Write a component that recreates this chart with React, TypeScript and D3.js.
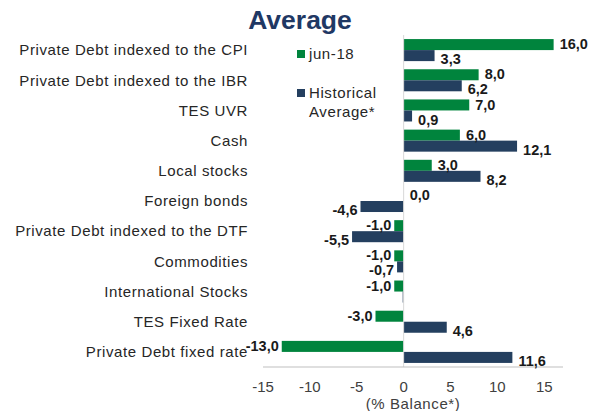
import React from 'react';
import * as d3 from 'd3';

const width = 595;
const height = 411;

// categories, top to bottom
const categories = [
  'Private Debt indexed to the CPI',
  'Private Debt indexed to the IBR',
  'TES UVR',
  'Cash',
  'Local stocks',
  'Foreign bonds',
  'Private Debt indexed to the DTF',
  'Commodities',
  'International Stocks',
  'TES Fixed Rate',
  'Private Debt fixed rate',
];

const jun18 = [16.0, 8.0, 7.0, 6.0, 3.0, 0.0, -1.0, -1.0, -1.0, -3.0, -13.0];
const historical = [3.3, 6.2, 0.9, 12.1, 8.2, -4.6, -5.5, -0.7, -0.1, 4.6, 11.6];
// the historical value for International Stocks carries no label in the source
const historicalLabelShown = [true, true, true, true, true, true, true, true, false, true, true];

const xTicks = [-15, -10, -5, 0, 5, 10, 15];

const GREEN = '#00843D';
const NAVY = '#243F5F';
const FONT = '"Liberation Sans", Arial, sans-serif';
const TXT = { fontSize: 15, letterSpacing: 0.6 };

const fmt = d3
  .formatLocale({ decimal: ',', thousands: '.', grouping: [3], currency: ['', ''], minus: '-' })
  .format('.1f');

export default function App() {
  // plot area
  const margin = { top: 35, left: 263, right: 32, bottom: 44 };
  const plotBottom = height - margin.bottom;

  const x = d3.scaleLinear().domain([-15, 17]).range([margin.left, width - margin.right]);
  const y = d3
    .scaleBand()
    .domain(categories)
    .range([margin.top, plotBottom])
    .paddingInner(0.27)
    .paddingOuter(0.135);
  const sub = d3.scaleBand().domain(['jun', 'hist']).range([0, y.bandwidth()]);

  const bars = [
    { key: 'jun', values: jun18, color: GREEN, shown: categories.map(() => true), dy: -0.5 },
    { key: 'hist', values: historical, color: NAVY, shown: historicalLabelShown, dy: 3.5 },
  ];

  return (
    <svg
      width={width}
      height={height}
      style={{ position: 'absolute', left: 0, top: 0, background: '#fff' }}
      fontFamily={FONT}
    >
      {/* title */}
      <text x={300} y={29} textAnchor="middle" fontSize={26.5} fontWeight="bold" fill="#1F3864">
        Average
      </text>

      {/* category labels */}
      {categories.map((c) => (
        <text
          key={c}
          x={248}
          y={y(c)! + y.bandwidth() / 2}
          dy="0.35em"
          textAnchor="end"
          {...TXT}
          fill="#262626"
        >
          {c}
        </text>
      ))}

      {/* bars */}
      {bars.map((s) =>
        s.values.map((v, i) => {
          const c = categories[i];
          const y0 = y(c)! + sub(s.key)!;
          const x0 = Math.min(x(0), x(v));
          const w = Math.abs(x(v) - x(0));
          return <rect key={s.key + i} x={x0} y={y0} width={w} height={sub.bandwidth()} fill={s.color} />;
        })
      )}

      {/* zero line */}
      <line x1={x(0)} x2={x(0)} y1={margin.top} y2={plotBottom} stroke="#d9d9d9" strokeWidth={1} />
      {/* bottom axis */}
      <line x1={x(-15)} x2={x(17)} y1={plotBottom} y2={plotBottom} stroke="#bfbfbf" strokeWidth={1} />
      {xTicks.map((t) => (
        <text key={t} x={x(t)} y={plotBottom + 20} dy="0.35em" textAnchor="middle" fontSize={15} fill="#404040">
          {t}
        </text>
      ))}
      <text x={413} y={plotBottom + 37} dy="0.35em" textAnchor="middle" {...TXT} fill="#404040">
        (% Balance*)
      </text>

      {/* value labels */}
      {bars.map((s) =>
        s.values.map((v, i) => {
          if (!s.shown[i]) return null;
          const c = categories[i];
          const yc = y(c)! + sub(s.key)! + sub.bandwidth() / 2 + s.dy;
          const neg = v < 0;
          return (
            <text
              key={'l' + s.key + i}
              x={x(v) + (neg ? -3 : 6)}
              y={yc}
              dy="0.35em"
              textAnchor={neg ? 'end' : 'start'}
              fontSize={14.5}
              fontWeight="bold"
              fill="#1a1a1a"
            >
              {fmt(v)}
            </text>
          );
        })
      )}

      {/* legend */}
      <rect x={297} y={50} width={8} height={8} fill={GREEN} />
      <text x={309} y={54} dy="0.35em" {...TXT} fill="#262626">
        jun-18
      </text>
      <rect x={297} y={89} width={8} height={8} fill={NAVY} />
      <text x={309} y={93} dy="0.35em" {...TXT} fill="#262626">
        Historical
      </text>
      <text x={309} y={112} dy="0.35em" {...TXT} fill="#262626">
        Average*
      </text>
    </svg>
  );
}
